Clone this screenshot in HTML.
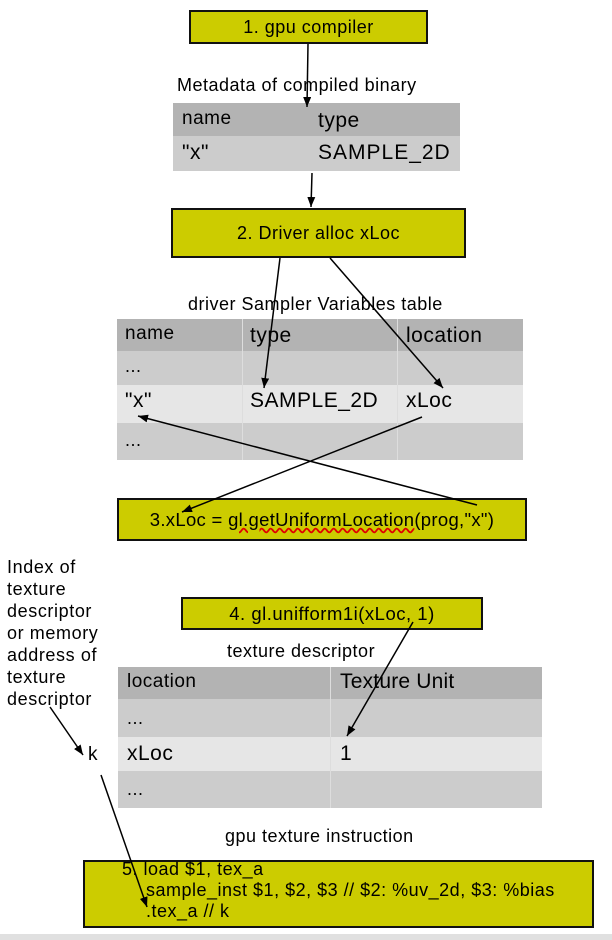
<!DOCTYPE html>
<html><head><style>
body{margin:0;width:612px;height:940px;background:#fff;position:relative;overflow:hidden;font-family:"Liberation Sans",sans-serif;color:#000}
.a{position:absolute;white-space:nowrap;letter-spacing:0.5px}
.b{position:absolute;background:#cccc00;border:2px solid #111;box-sizing:border-box;text-align:center;font-size:18px;letter-spacing:0.5px;white-space:nowrap}
.r{position:absolute}
</style></head><body>
<div class="b" style="left:189px;top:10px;width:239px;height:34px;line-height:30px">1. gpu compiler</div>
<div class="a" style="left:177px;top:75px;font-size:18px">Metadata of compiled binary</div>
<div class="r" style="left:173px;top:103px;width:287px;height:33px;background:#b3b3b3"></div>
<div class="r" style="left:173px;top:136px;width:287px;height:35px;background:#cccccc"></div>
<div class="a" style="left:182px;top:108px;font-size:19px">name</div>
<div class="a" style="left:318px;top:109px;font-size:21px">type</div>
<div class="a" style="left:182px;top:141px;font-size:21px">"x"</div>
<div class="a" style="left:318px;top:141px;font-size:21px;letter-spacing:1px">SAMPLE_2D</div>
<div class="b" style="left:171px;top:208px;width:295px;height:50px;line-height:46px">2. Driver alloc xLoc</div>
<div class="a" style="left:188px;top:294px;font-size:18px">driver Sampler Variables table</div>
<div class="r" style="left:117px;top:319px;width:406px;height:32px;background:#b3b3b3"></div>
<div class="r" style="left:117px;top:351px;width:406px;height:34px;background:#cccccc"></div>
<div class="r" style="left:117px;top:385px;width:406px;height:38px;background:#e6e6e6"></div>
<div class="r" style="left:117px;top:423px;width:406px;height:37px;background:#cccccc"></div>
<div class="r" style="left:242px;top:319px;width:1px;height:141px;background:#ddd"></div>
<div class="r" style="left:397px;top:319px;width:1px;height:141px;background:#ddd"></div>
<div class="a" style="left:125px;top:323px;font-size:19px">name</div>
<div class="a" style="left:250px;top:324px;font-size:21px">type</div>
<div class="a" style="left:406px;top:324px;font-size:21px">location</div>
<div class="a" style="left:125px;top:356px;font-size:18px">...</div>
<div class="a" style="left:125px;top:389px;font-size:21px">"x"</div>
<div class="a" style="left:250px;top:389px;font-size:21px">SAMPLE_2D</div>
<div class="a" style="left:406px;top:389px;font-size:21px">xLoc</div>
<div class="a" style="left:125px;top:430px;font-size:18px">...</div>
<div class="b" style="left:117px;top:498px;width:410px;height:43px;line-height:40px;font-size:18.5px;letter-spacing:0.3px">3.xLoc = <span style="text-decoration:underline wavy #e00000">gl.getUniformLocation</span>(prog,"x")</div>
<div class="a" style="left:7px;top:556px;font-size:18px;line-height:22px;letter-spacing:0.6px">Index of<br>texture<br>descriptor<br>or memory<br>address of<br>texture<br>descriptor</div>
<div class="b" style="left:181px;top:597px;width:302px;height:33px;line-height:29px;font-size:18.5px">4. gl.unifform1i(xLoc, 1)</div>
<div class="a" style="left:227px;top:641px;font-size:18px">texture descriptor</div>
<div class="r" style="left:118px;top:667px;width:424px;height:32px;background:#b3b3b3"></div>
<div class="r" style="left:118px;top:699px;width:424px;height:38px;background:#cccccc"></div>
<div class="r" style="left:118px;top:737px;width:424px;height:34px;background:#e6e6e6"></div>
<div class="r" style="left:118px;top:771px;width:424px;height:37px;background:#cccccc"></div>
<div class="r" style="left:330px;top:667px;width:1px;height:141px;background:#ddd"></div>
<div class="a" style="left:127px;top:671px;font-size:19px">location</div>
<div class="a" style="left:340px;top:670px;font-size:21px;letter-spacing:0.2px">Texture Unit</div>
<div class="a" style="left:127px;top:708px;font-size:18px">...</div>
<div class="a" style="left:127px;top:742px;font-size:21px">xLoc</div>
<div class="a" style="left:340px;top:742px;font-size:21px">1</div>
<div class="a" style="left:127px;top:779px;font-size:18px">...</div>
<div class="a" style="left:88px;top:744px;font-size:19px">k</div>
<div class="a" style="left:225px;top:826px;font-size:18px">gpu texture instruction</div>
<div class="r" style="left:83px;top:860px;width:511px;height:68px;background:#cccc00;border:2px solid #111;box-sizing:border-box"></div>
<div class="a" style="left:122px;top:859px;font-size:18px;line-height:21px">5. load $1, tex_a</div>
<div class="a" style="left:146px;top:880px;font-size:18px;line-height:21px">sample_inst $1, $2, $3 // $2: %uv_2d, $3: %bias<br>.tex_a // k</div>
<div class="r" style="left:0;top:934px;width:612px;height:6px;background:#e0e0e0"></div>
<svg width="612" height="940" style="position:absolute;left:0;top:0">
<defs><marker id="m" markerWidth="10" markerHeight="8" refX="10" refY="4" orient="auto" markerUnits="userSpaceOnUse"><path d="M0,0L10,4L0,8z" fill="#000"/></marker></defs>
<g stroke="#000" stroke-width="1.5" fill="none" marker-end="url(#m)">
<line x1="308" y1="44" x2="307" y2="107"/>
<line x1="312" y1="173" x2="311" y2="207"/>
<line x1="280" y1="258" x2="264" y2="388"/>
<line x1="330" y1="258" x2="443" y2="388"/>
<line x1="422" y1="417" x2="182" y2="512"/>
<line x1="477" y1="505" x2="138" y2="416"/>
<line x1="413" y1="622" x2="347" y2="736"/>
<line x1="50" y1="707" x2="83" y2="755"/>
<line x1="101" y1="775" x2="147" y2="907"/>
</g></svg>
</body></html>
